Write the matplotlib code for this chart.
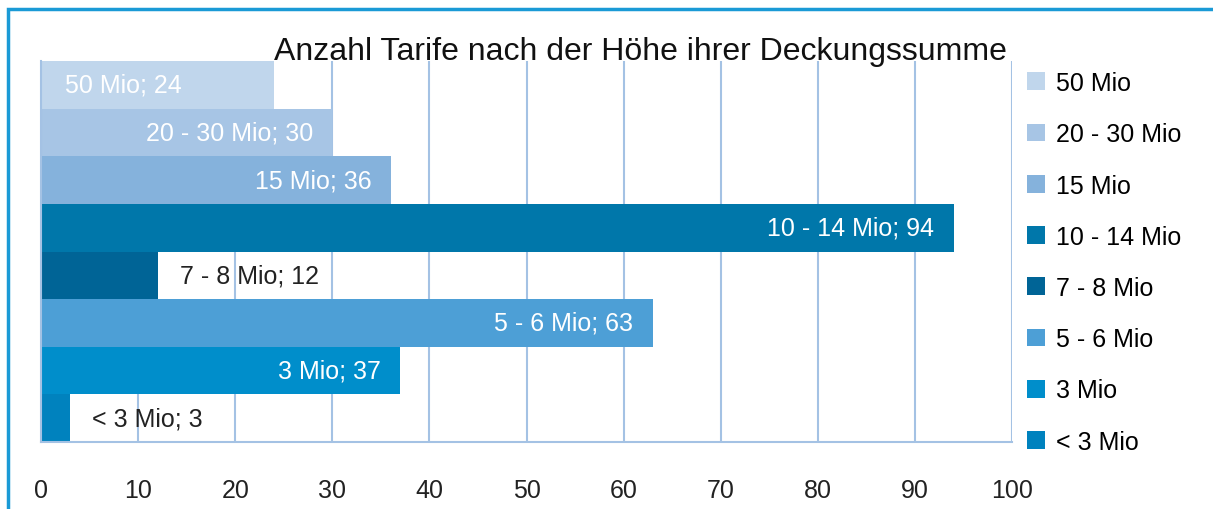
import matplotlib.pyplot as plt
from matplotlib.patches import Patch, Rectangle

plt.rcParams['font.family'] = ['Liberation Sans', 'DejaVu Sans']

# data, top to bottom
categories = ['50 Mio', '20 - 30 Mio', '15 Mio', '10 - 14 Mio', '7 - 8 Mio',
              '5 - 6 Mio', '3 Mio', '< 3 Mio']
counts = [24, 30, 36, 94, 12, 63, 37, 3]
colors = ['#c0d6ec', '#a7c5e5', '#85b2dc', '#0077aa', '#006496',
          '#4d9fd6', '#008ecb', '#0082be']
xticks = [0, 10, 20, 30, 40, 50, 60, 70, 80, 90, 100]

title = 'Anzahl Tarife nach der Höhe ihrer Deckungssumme'
grid_col = '#a4c2e4'
fs = 18

fig = plt.figure(figsize=(12.13, 5.10), dpi=100)
ax = fig.add_axes([41 / 1213, 1 - 443 / 510, (1012 - 41) / 1213, (443 - 62) / 510])

ypos = list(range(len(categories)))[::-1]
ax.barh(ypos, counts, height=1.0, color=colors, zorder=2)

for y, v, lab in zip(ypos, counts, categories):
    txt = '%s; %d' % (lab, v)
    if v < 15:
        ax.text(v + 2.3, y, txt, ha='left', va='center', fontsize=fs, color='#222222', zorder=3)
    elif lab == '50 Mio':
        ax.text(2.5, y, txt, ha='left', va='center', fontsize=fs, color='white', zorder=3)
    else:
        ax.text(v - 2.0, y, txt, ha='right', va='center', fontsize=fs, color='white', zorder=3)

ax.set_xlim(0, 100)
ax.set_ylim(-0.5, len(categories) - 0.5)
ax.set_xticks(xticks)
ax.set_yticks([])
ax.tick_params(axis='x', length=0, pad=26, labelsize=fs, labelcolor='#222222')
ax.grid(axis='x', color=grid_col, linewidth=1.5, zorder=1)
ax.set_axisbelow(True)
for s in ['left', 'bottom']:
    ax.spines[s].set_color(grid_col)
    ax.spines[s].set_linewidth(1.5)
ax.spines['top'].set_visible(False)
ax.spines['right'].set_visible(False)

fig.text(640 / 1213, 1 - 60 / 510, title, ha='center', va='baseline', fontsize=23, color='#111111')

handles = [Patch(facecolor=c, edgecolor='none') for c in colors]
fig.legend(handles, categories, loc='upper left', bbox_to_anchor=(1017 / 1213, 1 - 62 / 510),
           frameon=False, fontsize=fs, handlelength=0.72, handleheight=0.72,
           labelspacing=1.09, handletextpad=0.45, borderaxespad=0)

# outer frame
fig.patches.append(Rectangle((8 / 1213, -0.1), 1.2, 1 - 10 / 510 + 0.1,
                             transform=fig.transFigure, fill=False,
                             edgecolor='#1a9ad6', linewidth=2.5))

fig.savefig('out.png', dpi=100)
